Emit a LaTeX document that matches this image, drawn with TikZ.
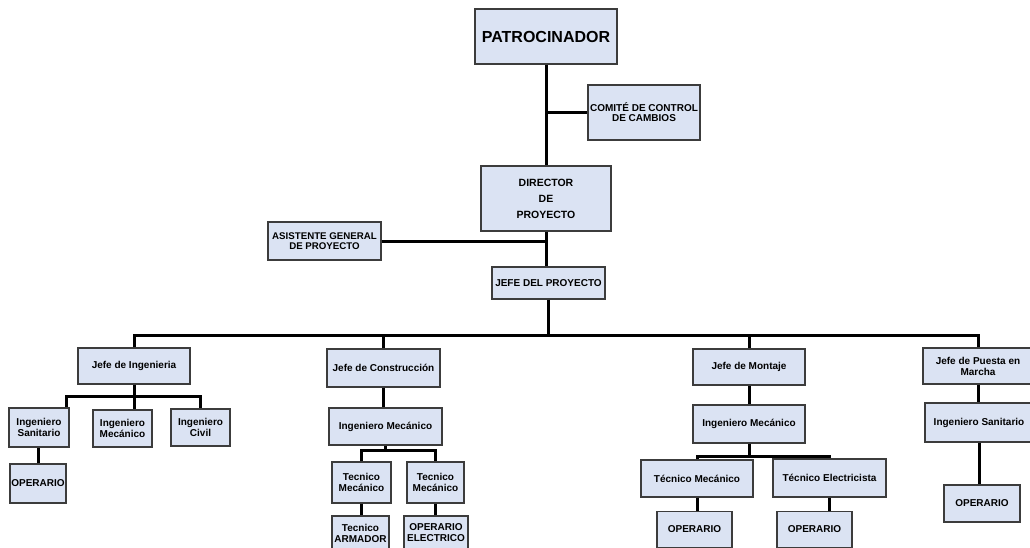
\documentclass[tikz,border=0pt]{standalone}
\usepackage{fontspec}
\setmainfont{Liberation Sans}

\definecolor{boxfill}{RGB}{219,227,243}
\definecolor{boxline}{RGB}{60,60,60}

\begin{document}
\begin{tikzpicture}[
    x=1pt, y=-1pt,
    box/.style={draw=boxline, fill=boxfill, line width=1.2pt, align=center,
        inner sep=1pt, font=\bfseries\fontsize{10}{11}\selectfont},
    sz/.style 2 args={minimum width=#1, minimum height=#2},
    link/.style={line width=3pt}
]
    \clip (0,0) rectangle (1030,548);
    \fill[white] (0,0) rectangle (1030,548);

    % 上层节点
    \node[box, sz={142}{55}, font=\bfseries\fontsize{16}{18}\selectfont] (P) at (546,36.5) {PATROCINADOR};
    \node[box, sz={112}{55}, font=\bfseries\fontsize{10}{10}\selectfont] (CC) at (644,112.5) {COMITÉ DE CONTROL\\DE CAMBIOS};
    \node[box, sz={130}{65}, font=\bfseries\fontsize{10.5}{16}\selectfont] (D) at (546,198.5) {DIRECTOR\\DE\\PROYECTO};
    \node[box, sz={113}{38}, font=\bfseries\fontsize{9.7}{10}\selectfont] (A) at (324.5,241) {ASISTENTE GENERAL\\DE PROYECTO};
    \node[box, sz={113}{32}] (J) at (548.5,283) {JEFE DEL PROYECTO};

    % 工程分支
    \node[box, sz={112}{36}] (JI) at (134,366) {Jefe de Ingenieria};
    \node[box, sz={60}{39}] (IS) at (39,427.5) {Ingeniero\\Sanitario};
    \node[box, sz={59}{37}] (IM) at (122.5,428.5) {Ingeniero\\Mecánico};
    \node[box, sz={59}{37}] (IC) at (200.5,427.5) {Ingeniero\\Civil};
    \node[box, sz={56}{39}] (OS) at (38,483.5) {OPERARIO};

    % 施工分支
    \node[box, sz={113}{38}] (JC) at (383.5,368) {Jefe de Construcción};
    \node[box, sz={113}{37}] (CM) at (385.5,426.5) {Ingeniero Mecánico};
    \node[box, sz={59}{41}] (CT1) at (361.5,482.5) {Tecnico\\Mecánico};
    \node[box, sz={57}{41}] (CT2) at (435.5,482.5) {Tecnico\\Mecánico};
    \node[box, sz={57}{34}] (CA) at (360.5,533) {Tecnico\\ARMADOR};
    \node[box, sz={64}{34}] (CE) at (436,533) {OPERARIO\\ELECTRICO};

    % 安装分支
    \node[box, sz={112}{36}] (JM) at (749,367) {Jefe de Montaje};
    \node[box, sz={112}{38}] (MM) at (749,424) {Ingeniero Mecánico};
    \node[box, sz={112}{37}] (MT1) at (697,478.5) {Técnico Mecánico};
    \node[box, sz={113}{38}] (MT2) at (829.5,478) {Técnico Electricista};
    \node[box, sz={75}{36}] (MO1) at (694.5,529.5) {OPERARIO};
    \node[box, sz={75}{36}] (MO2) at (814.5,529.5) {OPERARIO};

    % 调试分支
    \node[box, sz={110}{36}] (JP) at (978,366) {Jefe de Puesta en\\Marcha};
    \node[box, sz={108}{39}] (PS) at (979,422.5) {Ingeniero Sanitario};
    \node[box, sz={76}{37}] (PO) at (982,503.5) {OPERARIO};

    % --- 上层连线 ---
    \draw[link] (P) -- (D);
    \draw[link] (P.south |- CC.west) -- (CC.west);
    \draw[link] (D.south) -- (D.south |- J.north);
    \draw[link] (A.east) -- (A.east -| D.south);

    % --- 主横线 ---
    \coordinate (bar) at (0,335);
    \draw[link] (J.south) -- (J.south |- bar);
    \draw[link] (JI.north) |- (bar -| JP.north) -- (JP.north);
    \draw[link] (JC.north) -- (JC.north |- bar);
    \draw[link] (JM.north) -- (JM.north |- bar);

    % --- 工程分支连线 ---
    \coordinate (ib) at (0,396);
    \draw[link] (JI.south) -- (JI.south |- IM.north);
    \draw[link] ([xshift=-3pt]IS.north east) |- (ib -| IC.north) -- (IC.north);
    \draw[link] (OS.north) -- (OS.north |- IS.south);

    % --- 施工分支连线 ---
    \coordinate (cb) at (0,450);
    \draw[link] (JC.south) -- (JC.south |- CM.north);
    \draw[link] (CM.south) -- (CM.south |- cb);
    \draw[link] (CT1.north) |- (cb -| CT2.north) -- (CT2.north);
    \draw[link] (CT1.south) -- (CT1.south |- CA.north);
    \draw[link] (CT2.south) -- (CT2.south |- CE.north);

    % --- 安装分支连线 ---
    \coordinate (mb) at (0,456);
    \draw[link] (JM) -- (MM);
    \draw[link] (MM.south) -- (MM.south |- mb);
    \draw[link] (MT1.north) |- (mb -| MT2.north) -- (MT2.north);
    \draw[link] (MT1.south) -- (MT1.south |- MO1.north);
    \draw[link] (MT2.south) -- (MT2.south |- MO2.north);

    % --- 调试分支连线 ---
    \draw[link] (JP.south) -- (JP.south |- PS.north);
    \draw[link] (PS.south) -- (PS.south |- PO.north);

\end{tikzpicture}
\end{document}
